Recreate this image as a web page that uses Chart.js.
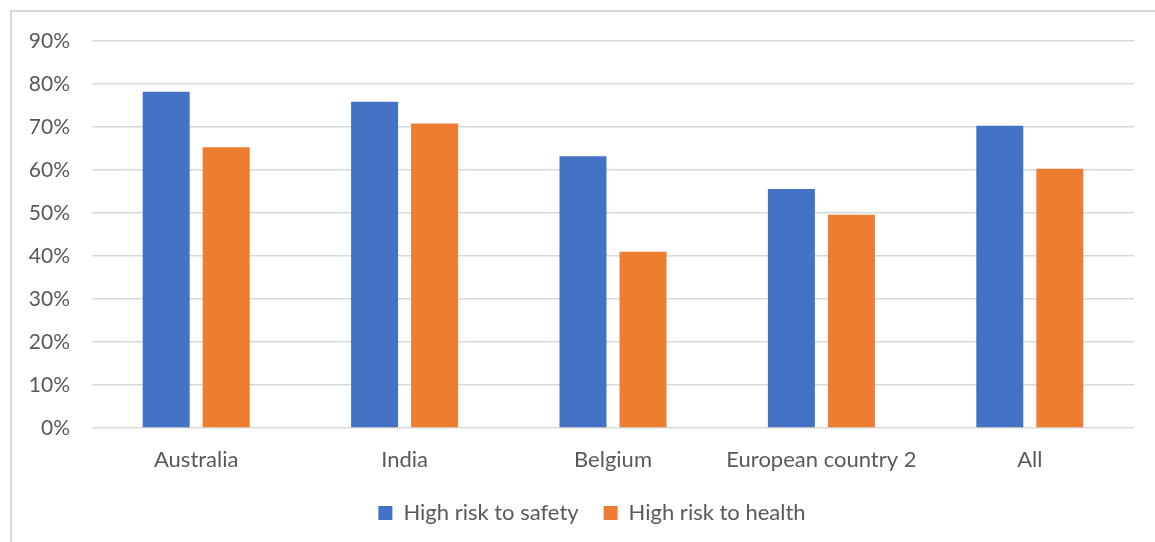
<!DOCTYPE html>
<html lang="en">
<head>
    <meta charset="UTF-8">
    <title>High risk to safety and health</title>
    <script src="https://cdn.jsdelivr.net/npm/chart.js"></script>
    <style>
body {
  margin: 0;
  background-color: #fff;
}

#frame {
  position: absolute;
  left: 10px;
  top: 10px;
  width: 1145px;
  height: 532px;
  border-left: 2px solid #d9d9d9;
  border-top: 2px solid #d9d9d9;
}

#chartContainer {
  position: absolute;
  left: 0;
  top: 0;
  width: 1155px;
  height: 542px;
}
    </style>
</head>
<body>
    <div id="frame"></div>
    <div id="chartContainer">
        <canvas id="myChart" width="1155" height="542"></canvas>
    </div>

    <script>
        // data
        const countries = ['Australia', 'India', 'Belgium', 'European country 2', 'All'];
        const safety = [78.2, 75.9, 63.2, 55.6, 70.3];
        const health = [65.3, 70.8, 41.0, 49.6, 60.3];
        const yTicks = [0, 10, 20, 30, 40, 50, 60, 70, 80, 90];

        const fontName = 'Lato, "Open Sans", sans-serif';
        const textColor = '#595959';

        // legend is centred a bit right of the canvas middle, like the original
        const legendShift = {
            id: 'legendShift',
            beforeDraw: function(chart) {
                if (chart.legend) {
                    chart.legend.left = 50;
                }
            }
        };

        var ctx = document.getElementById('myChart').getContext('2d');
        var myChart = new Chart(ctx, {
            type: 'bar',
            data: {
                labels: countries,
                datasets: [{
                    label: 'High risk to safety',
                    data: safety,
                    backgroundColor: '#4472C4',
                    categoryPercentage: 0.576,
                    barPercentage: 0.783
                }, {
                    label: 'High risk to health',
                    data: health,
                    backgroundColor: '#ED7D31',
                    categoryPercentage: 0.576,
                    barPercentage: 0.783
                }]
            },
            plugins: [legendShift],
            options: {
                responsive: false,
                animation: false,
                layout: {
                    padding: { left: 0, right: 21, top: 41, bottom: 8 }
                },
                plugins: {
                    tooltip: { enabled: false },
                    legend: {
                        position: 'bottom',
                        labels: {
                            color: textColor,
                            font: { family: fontName, size: 22 },
                            boxWidth: 14,
                            boxHeight: 14,
                            padding: 25
                        }
                    }
                },
                scales: {
                    x: {
                        grid: { display: false, drawTicks: false },
                        border: { display: false },
                        ticks: {
                            color: textColor,
                            font: { family: fontName, size: 22 },
                            padding: 19,
                            maxRotation: 0
                        },
                        afterFit: function(scale) { scale.height = 49; }
                    },
                    y: {
                        min: 0,
                        max: 90,
                        afterBuildTicks: function(scale) {
                            scale.ticks = yTicks.map(function(v) { return { value: v }; });
                        },
                        grid: { color: '#d9d9d9', lineWidth: 1.5, drawTicks: false },
                        border: { display: false },
                        ticks: {
                            color: textColor,
                            font: { family: fontName, size: 21 },
                            padding: 22,
                            callback: function(value) { return value + '%'; }
                        },
                        afterFit: function(scale) { scale.width = 92; }
                    }
                }
            }
        });
    </script>
</body>
</html>
